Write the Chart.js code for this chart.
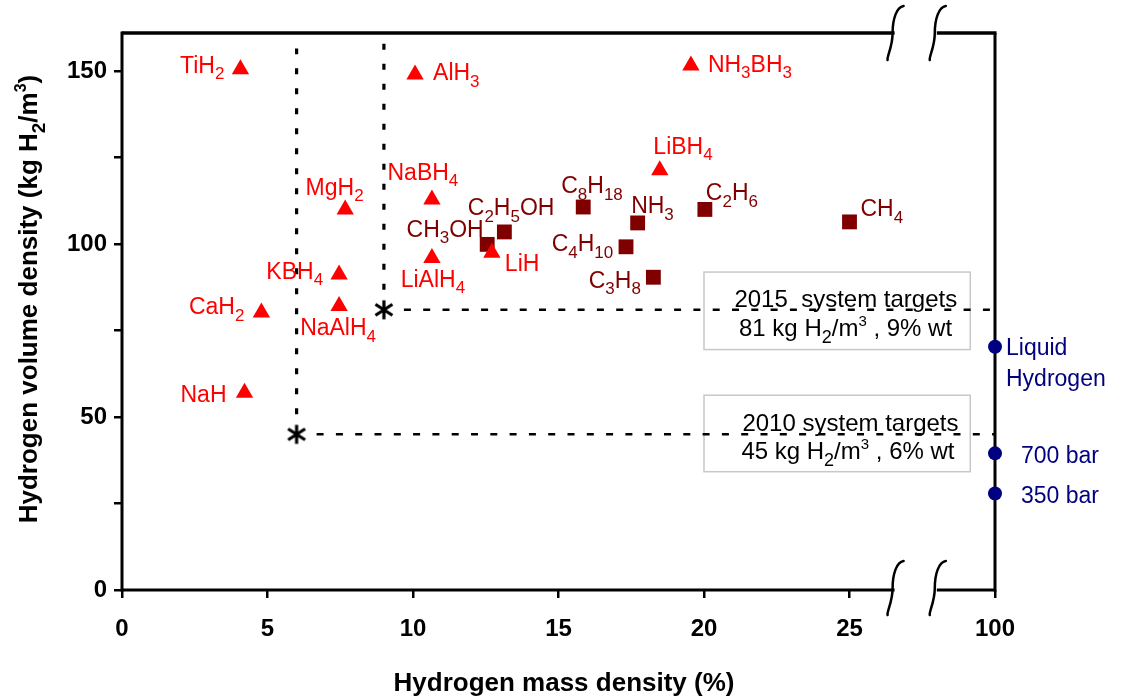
<!DOCTYPE html>
<html>
<head>
<meta charset="utf-8">
<script src="https://cdn.jsdelivr.net/npm/chart.js@4.4.1/dist/chart.umd.min.js"></script>
<style>
  html, body { margin: 0; padding: 0; background: #fff; }
</style>
</head>
<body>
<canvas id="myChart" width="1125" height="700"></canvas>
<script>
// ---- data (mass density %, volume density kg H2/m3) ----
const hydrideNames  = ['TiH2', 'AlH3', 'NH3BH3', 'MgH2', 'NaBH4', 'LiBH4', 'KBH4', 'CaH2', 'NaAlH4', 'LiAlH4', 'LiH', 'NaH'];
const hydrideMass   = [4.07, 10.07, 19.55, 7.67, 10.65, 18.48, 7.46, 4.79, 7.46, 10.65, 12.71, 4.21];
const hydrideVolume = [150.5, 149, 151.6, 110, 112.9, 121.3, 91.2, 80.2, 82.1, 96.0, 97.5, 57.0];

const fuelNames  = ['CH3OH', 'C2H5OH', 'C8H18', 'NH3', 'C2H6', 'CH4', 'C4H10', 'C3H8'];
const fuelMass   = [12.55, 13.14, 15.85, 17.72, 20.03, 25.0, 17.32, 18.26];
const fuelVolume = [99.9, 103.5, 110.7, 106.1, 110, 106.4, 99.2, 90.4];

const pureNames  = ['Liquid\nHydrogen', '700 bar', '350 bar'];
const pureMass   = [100, 100, 100];
const pureVolume = [70.3, 39.5, 27.9];

const targetNames  = ['2010', '2015'];
const targetMass   = [6, 9];
const targetVolume = [45, 81];
const guideTop     = [156.5, 158];   // where the vertical guides stop

const xTicks = [0, 5, 10, 15, 20, 25, 100];
const yTicks = [0, 50, 100, 150];

// broken x axis: 100 % sits right after the break
const BREAK_VALUE = 100, BREAK_POS = 30;
const axisX = v => v >= BREAK_VALUE ? BREAK_POS + (v - BREAK_VALUE) : v;

// ---- styling ----
const FONT = '"Liberation Sans", Arial, Helvetica, sans-serif';
const RED = '#ff0000', MAROON = '#800000', NAVY = '#000080';

// label placement: [align, dx, dy] in px from the marker
const hydrideLabelPos = [
  ['right', -16, -5], ['left', 18, -2.5], ['left', 17, -2], ['center', -10.6, -23],
  ['center', -9, -28], ['left', -6.4, -25], ['right', -16, -4], ['right', -17, -6.5],
  ['center', -1, 21], ['center', 1, 20.5], ['left', 13, 10.5], ['right', -18, 0.5]
];
const fuelLabelPos = [
  ['right', -3.5, -16], ['left', -36.6, -25], ['left', -22, -22], ['left', -6.5, -18],
  ['left', 1, -17.6], ['left', 11, -14], ['right', -12.8, -4], ['right', -12.5, 2.3]
];
const pureLabelPos = [['left', 11, 0], ['left', 26, 1.7], ['left', 26, 1.7]];

const targetBoxes = [
  { x0: 20, x1: 29.15, y0: 91.9, y1: 69.5,
    lines: [['2015  system targets', 30.4, 26.3], ['81 kg H_{2}/m^{3} , 9% wt', 35, 55]] },
  { x0: 20, x1: 29.15, y0: 56.3, y1: 34.2,
    lines: [['2010 system targets', 38.4, 26.7], ['45 kg H_{2}/m^{3} , 6% wt', 37.4, 55]] }
];

const formula = s => s.replace(/\d+/g, d => '_{' + d + '}');

function parseRich(str) {
  const runs = [];
  let buf = '', i = 0;
  while (i < str.length) {
    const c = str[i];
    if ((c === '_' || c === '^') && str[i + 1] === '{') {
      if (buf) { runs.push({ t: buf, m: 'n' }); buf = ''; }
      const end = str.indexOf('}', i);
      runs.push({ t: str.slice(i + 2, end), m: c === '_' ? 'sub' : 'sup' });
      i = end + 1;
    } else { buf += c; i++; }
  }
  if (buf) runs.push({ t: buf, m: 'n' });
  return runs;
}

// y = vertical centre of the capitals
function drawRich(ctx, str, x, y, opt) {
  const size = opt.size, weight = opt.weight || 'normal';
  const runs = parseRich(str);
  const fontOf = m => weight + ' ' + (m === 'n' ? size : Math.round(size * (m === 'sub' ? 0.74 : 0.62))) + 'px ' + FONT;
  let w = 0;
  runs.forEach(r => { ctx.font = fontOf(r.m); r.w = ctx.measureText(r.t).width; w += r.w; });
  let cx = opt.align === 'right' ? x - w : opt.align === 'center' ? x - w / 2 : x;
  const base = y + size * 0.358;
  ctx.fillStyle = opt.color || '#000';
  ctx.textAlign = 'left';
  ctx.textBaseline = 'alphabetic';
  runs.forEach(r => {
    ctx.font = fontOf(r.m);
    const dy = r.m === 'sub' ? size * 0.29 : r.m === 'sup' ? -size * 0.42 : 0;
    ctx.fillText(r.t, cx, base + dy);
    cx += r.w;
  });
}

// asterisk marker (X plus vertical bar)
const starImg = document.createElement('canvas');
starImg.width = 22; starImg.height = 22;
(function () {
  const c = starImg.getContext('2d');
  c.strokeStyle = '#000'; c.lineWidth = 3.2; c.lineCap = 'butt';
  c.beginPath();
  c.moveTo(11, 1.5); c.lineTo(11, 20.5);
  c.moveTo(2.5, 5.5); c.lineTo(19.5, 16.5);
  c.moveTo(2.5, 16.5); c.lineTo(19.5, 5.5);
  c.stroke();
})();

const pts = (xs, ys) => xs.map((x, i) => ({ x: axisX(x), y: ys[i] }));

const line = (ctx, x1, y1, x2, y2) => { ctx.beginPath(); ctx.moveTo(x1, y1); ctx.lineTo(x2, y2); ctx.stroke(); };

function squiggle(ctx, cx, cy) {
  ctx.beginPath();
  ctx.moveTo(cx + 9, cy - 27);
  ctx.bezierCurveTo(cx + 2, cy - 26, cx - 2, cy - 14, cx - 2, cy);
  ctx.bezierCurveTo(cx - 2, cy + 14, cx - 8, cy + 24, cx - 7, cy + 27);
  ctx.stroke();
}

const backdrop = {
  id: 'backdrop',
  beforeDatasetsDraw(chart) {
    const { ctx, chartArea: { left, right, top, bottom }, scales: { x, y } } = chart;
    ctx.save();
    // target boxes
    ctx.strokeStyle = '#c8c8c8'; ctx.lineWidth = 1.5;
    targetBoxes.forEach(b => {
      const bx = x.getPixelForValue(b.x0), by = y.getPixelForValue(b.y0);
      ctx.strokeRect(bx, by, x.getPixelForValue(b.x1) - bx, y.getPixelForValue(b.y1) - by);
    });
    // frame with axis break
    const bA = x.getPixelForValue(26.55), bB = x.getPixelForValue(28.0);
    ctx.strokeStyle = '#000'; ctx.lineCap = 'butt';
    ctx.lineWidth = 3;
    line(ctx, left, top - 1.5, left, bottom + 1.5);
    line(ctx, left, bottom, bA, bottom);
    line(ctx, bB, bottom, right, bottom);
    line(ctx, right, top, right, bottom + 1.5);
    ctx.lineWidth = 3.5;
    line(ctx, left, top, bA, top);
    line(ctx, bB, top, right + 1.5, top);
    ctx.lineWidth = 2.5; ctx.lineCap = 'round';
    [bA, bB].forEach(px => { squiggle(ctx, px, top); squiggle(ctx, px, bottom - 2); });
    // target guide lines
    ctx.lineCap = 'butt';
    targetMass.forEach((m, i) => {
      const px = x.getPixelForValue(axisX(m)), py = y.getPixelForValue(targetVolume[i]);
      ctx.setLineDash([7, 12.3]); ctx.lineWidth = 2.5;
      line(ctx, px + 20, py, right, py);
      ctx.setLineDash([6, 14]); ctx.lineWidth = 3.2;
      line(ctx, px, py - 20, px, y.getPixelForValue(guideTop[i]));
    });
    ctx.restore();
  },
  afterDatasetsDraw(chart) {
    const { ctx, scales: { x, y } } = chart;
    ctx.save();
    const labelSet = (dsIndex, names, pos, color, lineGap, fmt) => {
      chart.getDatasetMeta(dsIndex).data.forEach((el, i) => {
        const [align, dx, dy] = pos[i];
        names[i].split('\n').forEach((txt, k) => {
          drawRich(ctx, fmt(txt), el.x + dx, el.y + dy + k * lineGap, { size: 23, color, align });
        });
      });
    };
    labelSet(1, hydrideNames, hydrideLabelPos, RED, 0, formula);
    labelSet(2, fuelNames, fuelLabelPos, MAROON, 0, formula);
    labelSet(3, pureNames, pureLabelPos, NAVY, 31, t => t);
    targetBoxes.forEach(b => {
      const bx = x.getPixelForValue(b.x0), by = y.getPixelForValue(b.y0);
      b.lines.forEach(([txt, dx, dy]) => drawRich(ctx, txt, bx + dx, by + dy, { size: 24, color: '#000', align: 'left' }));
    });
    // axis titles
    drawRich(ctx, 'Hydrogen mass density (%)', 564, 682, { size: 26, weight: 'bold', align: 'center' });
    ctx.translate(28, 299);
    ctx.rotate(-Math.PI / 2);
    drawRich(ctx, 'Hydrogen volume density (kg H_{2}/m^{3})', 0, 0, { size: 26, weight: 'bold', align: 'center' });
    ctx.restore();
  }
};

const tickFont = { family: FONT, size: 24, weight: 'bold' };
const gridOpts = { drawOnChartArea: false, drawTicks: true, tickLength: 8, color: '#000', lineWidth: 2.5 };

new Chart(document.getElementById('myChart'), {
  type: 'scatter',
  data: {
    datasets: [
      { label: 'targets', data: pts(targetMass, targetVolume), pointStyle: starImg, pointRadius: 9, clip: false },
      { label: 'hydrides', data: pts(hydrideMass, hydrideVolume), pointStyle: 'triangle', pointRadius: 10,
        backgroundColor: RED, borderColor: RED, borderWidth: 0, clip: false },
      { label: 'fuels', data: pts(fuelMass, fuelVolume), pointStyle: 'rect', pointRadius: 10.5,
        backgroundColor: MAROON, borderColor: MAROON, borderWidth: 0, clip: false },
      { label: 'pure', data: pts(pureMass, pureVolume), pointStyle: 'circle', pointRadius: 7,
        backgroundColor: NAVY, borderColor: NAVY, borderWidth: 0, clip: false }
    ]
  },
  options: {
    responsive: false,
    animation: false,
    devicePixelRatio: 1,
    layout: { padding: { left: 0, top: 33, right: 130, bottom: 0 } },
    plugins: { legend: { display: false }, tooltip: { enabled: false } },
    scales: {
      x: {
        type: 'linear', min: 0, max: BREAK_POS,
        afterFit: s => { s.height = 110; },
        afterBuildTicks: s => { s.ticks = xTicks.map(v => ({ value: axisX(v) })); },
        grid: gridOpts,
        border: { display: false },
        ticks: { color: '#000', font: tickFont, padding: 17, autoSkip: false, maxRotation: 0,
                 callback: v => v === BREAK_POS ? String(BREAK_VALUE) : String(v) }
      },
      y: {
        type: 'linear', min: 0, max: 161,
        afterFit: s => { s.width = 122; },
        grid: gridOpts,
        border: { display: false },
        ticks: { color: '#000', font: tickFont, padding: 7, stepSize: 25, includeBounds: false,
                 callback: v => yTicks.includes(v) ? String(v) : '' }
      }
    }
  },
  plugins: [backdrop]
});
</script>
</body>
</html>
